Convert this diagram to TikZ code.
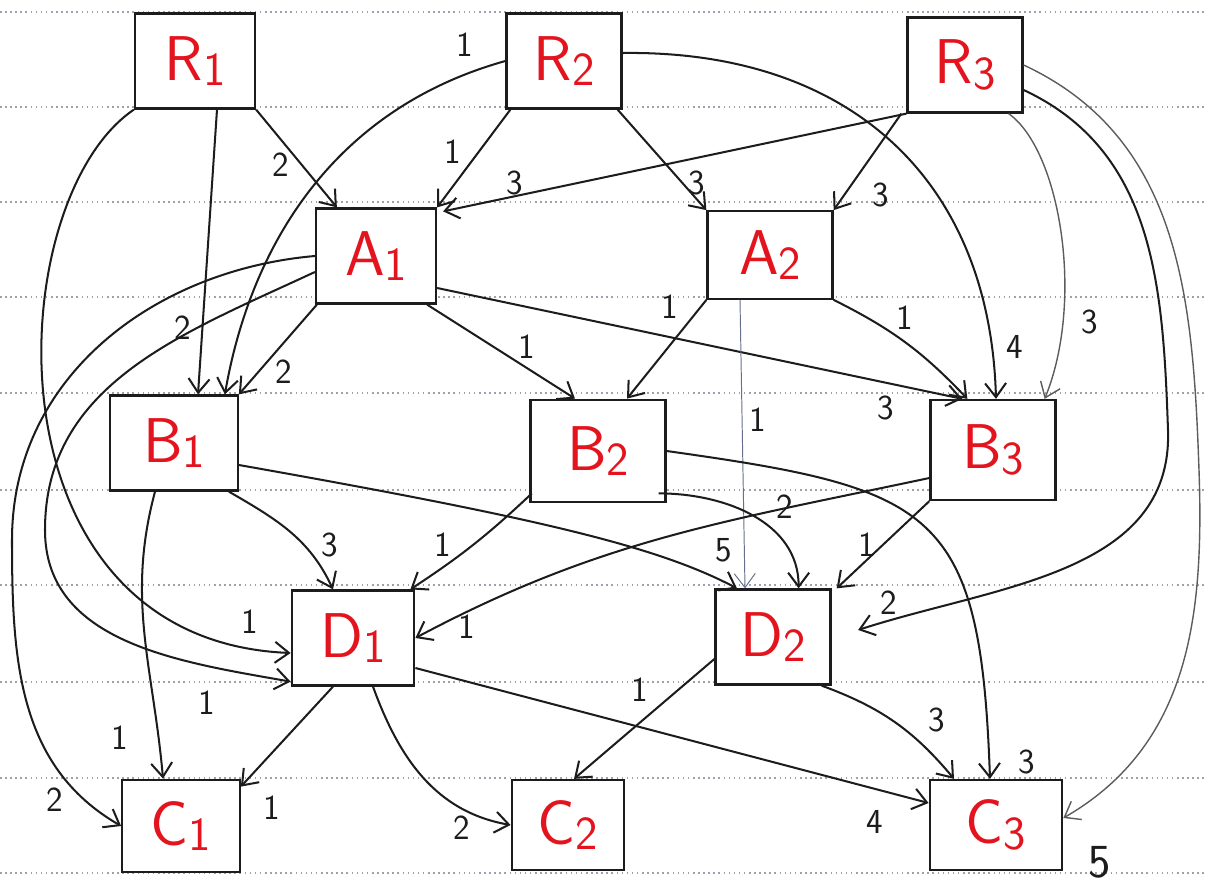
\documentclass[tikz,border=0pt]{standalone}
\usepackage{xcolor}
\usepackage{tikz}
\usetikzlibrary{arrows.meta,backgrounds,calc}
\definecolor{handred}{HTML}{E3141E}
\definecolor{ink}{HTML}{1C1C1C}
\definecolor{ruling}{HTML}{9EA0AE}
\definecolor{pencil}{HTML}{66708C}
\newcommand{\unitname}[2]{#1{\fontsize{27}{29}\selectfont\raisebox{-0.12em}{#2}}}
\tikzset{
  cell/.style={
    rectangle,
    draw=ink,
    line width=1.3pt,
    minimum width=2.4cm,
    minimum height=1.9cm,
    inner sep=0pt,
    fill=white,
    text=handred,
    font=\sffamily\fontsize{36}{38}\selectfont
  },
  link/.style={
    -{Straight Barb[length=2.8mm,width=4.2mm]},
    draw=ink,
    line width=1.15pt
  },
  thinlink/.style={link, draw=ink!72, line width=0.8pt},
  pencillink/.style={link, draw=pencil, line width=0.55pt},
  weight/.style={
    font=\sffamily\fontsize{20}{22}\selectfont,
    text=ink,
    inner sep=1pt
  },
  bigweight/.style={weight, font=\sffamily\fontsize{27}{29}\selectfont},
  rule/.style={draw=ruling, dotted, line width=0.9pt}
}

\begin{document}
\begin{tikzpicture}[x=0.02cm, y=0.02cm]
\useasboundingbox (0,0) rectangle (1205,-889);

% Notebook rulings behind everything.
\begin{scope}[on background layer]
  \foreach \ry in {12,107,202,297,393,490,585,682,778,873}
    \draw[rule] (0,-\ry) -- (1205,-\ry);
\end{scope}

% Row 1: R units.
\node[cell] (R1) at (195,-61) {\unitname{R}{1}};
\node[cell, minimum width=2.3cm] (R2) at (564,-61) {\unitname{R}{2}};
\node[cell, minimum width=2.3cm] (R3) at (965,-65) {\unitname{R}{3}};

% Row 2: A units.
\node[cell] (A1) at (376,-256) {\unitname{A}{1}};
\node[cell, minimum width=2.5cm, minimum height=1.75cm] (A2) at (770,-255) {\unitname{A}{2}};

% Row 3: B units.
\node[cell, minimum width=2.55cm] (B1) at (174,-443) {\unitname{B}{1}};
\node[cell, minimum width=2.7cm, minimum height=2.05cm] (B2) at (598,-451) {\unitname{B}{2}};
\node[cell, minimum width=2.5cm, minimum height=2cm] (B3) at (993,-450) {\unitname{B}{3}};

% Row 4: D units.
\node[cell, minimum width=2.45cm] (D1) at (353,-638) {\unitname{D}{1}};
\node[cell, minimum width=2.3cm] (D2) at (773,-637) {\unitname{D}{2}};

% Row 5: C units.
\node[cell, minimum width=2.35cm, minimum height=1.85cm] (C1) at (181,-826) {\unitname{C}{1}};
\node[cell, minimum width=2.25cm, minimum height=1.8cm] (C2) at (568,-825) {\unitname{C}{2}};
\node[cell, minimum width=2.65cm, minimum height=1.8cm] (C3) at (996,-825) {\unitname{C}{3}};

% Links out of the R row.
\draw[link] (R1.south east) -- ([xshift=4.4mm]A1.north west);
\draw[link] ([xshift=4.4mm]R1.south) -- ([xshift=4.8mm]B1.north);
\draw[link] (R1.south west) .. controls (0,-200) and (-20,-640) .. ([yshift=-3mm]D1.west);
\draw[link] (R2.west) .. controls (330,-110) and (250,-250) .. ([xshift=-2.8mm]B1.north east);
\draw[link] ([xshift=1mm]R2.south west) -- (A1.north east);
\draw[link] ([xshift=-1mm]R2.south east) -- (A2.north west);
\draw[link] ([yshift=1.6mm]R2.east) .. controls (850,-50) and (990,-180) .. ([xshift=0.6mm]B3.north);
\draw[link] (R3.south west) -- ([shift={(1.2mm,-0.8mm)}]A1.north east);
\draw[link] ([xshift=-1mm]R3.south west) -- (A2.north east);
\draw[thinlink] ([xshift=-3mm]R3.south east) .. controls (1060,-150) and (1085,-300) .. ([xshift=-2.4mm]B3.north east);
\draw[link] ([yshift=-5mm]R3.east) to[out=-25,in=92] (1168,-430)
  to[out=-88,in=18] ([xshift=5.3mm,yshift=1.4mm]D2.east);
\draw[thinlink] (R3.east) to[out=-25,in=92] (1199,-470)
  to[out=-88,in=30] ([yshift=1.4mm]C3.east);

% Links out of the A row.
\draw[link] ([xshift=0.4mm]A1.south west) -- (B1.north east);
\draw[link] (A1.west) to[out=185,in=90] (12,-540) to[out=-90,in=150] (C1.west);
\draw[link] ([yshift=-3.2mm]A1.west) to[out=205,in=90] (45,-530)
  to[out=-90,in=170] ([yshift=1mm]D1.south west);
\draw[link] ([xshift=-2mm]A1.south east) -- ([xshift=-4.6mm]B2.north);
\draw[link] ([yshift=-6.4mm]A1.east) -- ([xshift=6.6mm]B3.north west);
\draw[link] (A2.south west) -- ([xshift=5.8mm]B2.north);
\draw[link] (A2.south east) to[bend left=10] ([xshift=7.6mm]B3.north west);
\draw[pencillink] ([xshift=-6mm]A2.south) -- ([xshift=-5.6mm]D2.north);

% Links out of the B row.
\draw[link] ([xshift=-2mm]B1.south east) to[out=-30,in=115] ([xshift=-4mm]D1.north);
\draw[link] ([xshift=-3.8mm]B1.south) to[out=-105,in=95] ([xshift=-3.6mm]C1.north);
\draw[link] ([yshift=-4.4mm]B1.east) .. controls (550,-520) and (660,-548) .. ([xshift=-7.2mm]D2.north);
\draw[link] ([shift={(0.5mm,2mm)}]B2.south west) to[bend left=5] ([xshift=-1mm]D1.north east);
\draw[link] ([shift={(-1.6mm,2mm)}]B2.south east) to[out=0,in=90] ([xshift=-6.6mm]D2.north east);
\draw[link] (B2.east) to[out=-8,in=92,looseness=1.5] ([xshift=-1.2mm]C3.north);
\draw[link] ([yshift=-5.6mm]B3.west) to[out=192,in=28] (D1.east);
\draw[link] (B3.south west) -- ([xshift=1mm]D2.north east);

% Links out of the D row.
\draw[link] ([xshift=-4mm]D1.south) -- ([yshift=-1.6mm]C1.north east);
\draw[link] ([xshift=4mm]D1.south) to[out=-70,in=170] (C2.west);
\draw[link] ([yshift=-6mm]D1.east) -- ([yshift=4.4mm]C3.west);
\draw[link] ([yshift=-4.4mm]D2.west) -- ([xshift=1.2mm]C2.north);
\draw[link] ([xshift=-2mm]D2.south east) to[bend left=15] ([xshift=-8.4mm]C3.north);

% Link weights.
\node[weight] (wR1A1) at (281,-165) {2};
\node[weight] (wR1B1) at (183,-328) {2};
\node[weight] (wR1D1) at (250,-622) {1};
\node[weight] (wR2B1) at (465,-45) {1};
\node[weight] (wR2A1) at (453,-152) {1};
\node[weight] (wR2A2) at (697,-183) {3};
\node[weight] (wR2B3) at (1015,-347) {4};
\node[weight] (wR3A1) at (515,-183) {3};
\node[weight] (wR3A2) at (881,-195) {3};
\node[weight] (wR3B3) at (1090,-322) {3};
\node[weight] (wR3D2) at (889,-603) {2};
\node[bigweight] (wR3C3) at (1100,-862) {5};
\node[weight] (wA1B1) at (284,-372) {2};
\node[weight] (wA1C1) at (55,-800) {2};
\node[weight] (wA1D1) at (207,-703) {1};
\node[weight] (wA1B2) at (527,-347) {1};
\node[weight] (wA1B3) at (886,-408) {3};
\node[weight] (wA2B2) at (670,-307) {1};
\node[weight] (wA2B3) at (905,-318) {1};
\node[weight] (wA2D2) at (758,-420) {1};
\node[weight] (wB1D1) at (330,-545) {3};
\node[weight] (wB1C1) at (120,-738) {1};
\node[weight] (wB1D2) at (724,-550) {5};
\node[weight] (wB2D1) at (443,-545) {1};
\node[weight] (wB2D2) at (785,-507) {2};
\node[weight] (wB2C3) at (1027,-762) {3};
\node[weight] (wB3D1) at (467,-627) {1};
\node[weight] (wB3D2) at (867,-545) {1};
\node[weight] (wD1C1) at (272,-808) {1};
\node[weight] (wD1C2) at (462,-828) {2};
\node[weight] (wD1C3) at (875,-822) {4};
\node[weight] (wD2C2) at (640,-690) {1};
\node[weight] (wD2C3) at (937,-720) {3};

\end{tikzpicture}
\end{document}
